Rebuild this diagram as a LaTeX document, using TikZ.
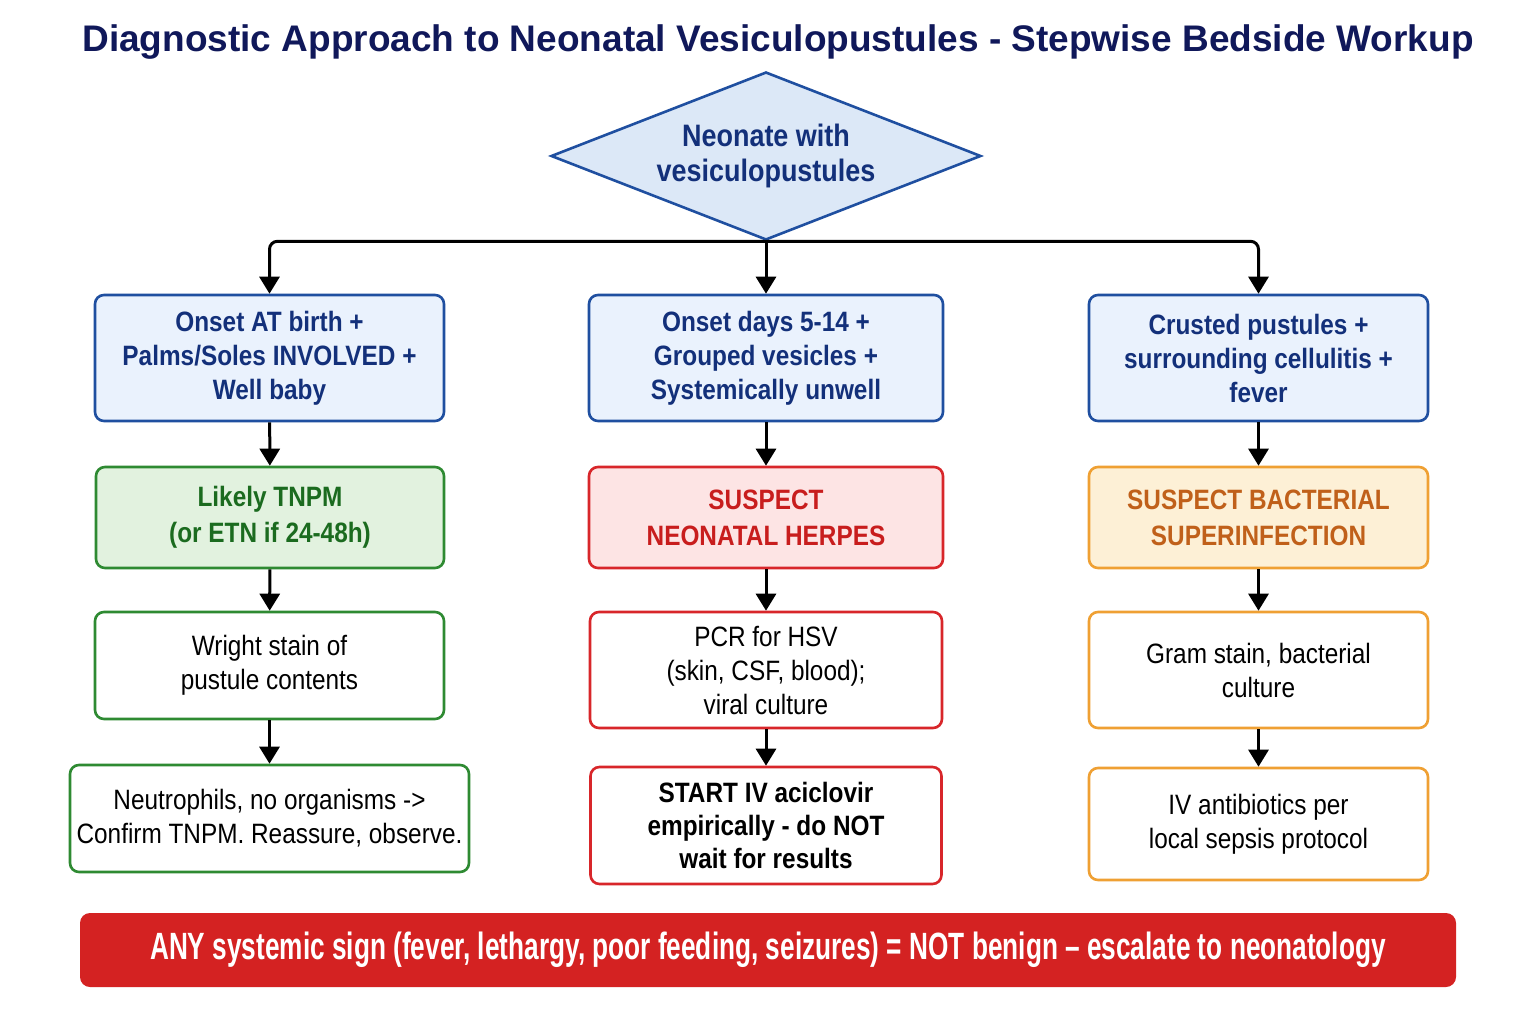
\documentclass[tikz,border=0pt]{standalone}
\usepackage{fontspec}
\setmainfont{Liberation Sans}
\newfontfamily\boxfont[FakeStretch=0.87]{Liberation Sans}
\newfontfamily\bannerfont[FakeStretch=0.69]{Liberation Sans}
\usetikzlibrary{shapes.geometric,arrows.meta}
\usepackage{xcolor}

\definecolor{titlenavy}{RGB}{16,24,90}
\definecolor{diafill}{RGB}{220,232,247}
\definecolor{bluedraw}{RGB}{31,79,160}
\definecolor{bluefill}{RGB}{234,242,253}
\definecolor{bluetext}{RGB}{19,48,122}
\definecolor{greendraw}{RGB}{46,138,50}
\definecolor{greenfill}{RGB}{226,242,223}
\definecolor{greentext}{RGB}{27,107,31}
\definecolor{reddraw}{RGB}{216,38,42}
\definecolor{redfill}{RGB}{253,228,228}
\definecolor{redtext}{RGB}{200,29,29}
\definecolor{orangedraw}{RGB}{239,160,51}
\definecolor{orangefill}{RGB}{253,240,214}
\definecolor{orangetext}{RGB}{192,96,26}
\definecolor{bannerred}{RGB}{212,34,34}

\begin{document}
\begin{tikzpicture}[x=1pt,y=-1pt, %pixel grid, y runs down
	stepbox/.style={draw, line width=2.6pt, rounded corners=9pt, fill=white, align=center, inner sep=0pt, text=black, font=\boxfont\fontsize{28}{34}\selectfont},
	bluebox/.style={stepbox, draw=bluedraw, fill=bluefill, text=bluetext, font=\boxfont\bfseries\fontsize{28}{34}\selectfont},
	tagbox/.style={stepbox, font=\boxfont\bfseries\fontsize{28}{36}\selectfont},
	arr/.style={-{Triangle[width=20pt,length=17pt]}, line width=3pt, black}]

\fill [white] (0,0) rectangle (1536,1024);
\useasboundingbox (0,0) rectangle (1536,1024);

	%title and start diamond
\node [anchor=base, text=titlenavy, font=\bfseries\fontsize{37}{40}\selectfont] (title) at (778,52) {Diagnostic Approach to Neonatal Vesiculopustules - Stepwise Bedside Workup};
\node [diamond, draw=bluedraw, fill=diafill, line width=2.6pt, aspect=2.56, minimum width=430, minimum height=168, inner sep=0pt, align=center, text=bluetext, font=\boxfont\bfseries\fontsize{31}{35}\selectfont] (start) at (766,156) {Neonate with\\vesiculopustules};

	%first row, presentation
\node [bluebox, minimum width=349, minimum height=126] (onsetA) at (269.5,358) {Onset AT birth +\\Palms/Soles INVOLVED +\\Well baby};
\node [bluebox, minimum width=354, minimum height=126] (onsetB) at (766,358) {Onset days 5-14 +\\Grouped vesicles +\\Systemically unwell};
\node [bluebox, minimum width=339, minimum height=126] (onsetC) at (1258.5,358) {Crusted pustules +\\surrounding cellulitis +\\fever};

	%second row, working diagnosis
\node [tagbox, draw=greendraw, fill=greenfill, text=greentext, minimum width=348, minimum height=101] (tnpm) at (270,517.5) {Likely TNPM\\(or ETN if 24-48h)};
\node [tagbox, draw=reddraw, fill=redfill, text=redtext, minimum width=354, minimum height=101] (herpes) at (766,517.5) {SUSPECT\\NEONATAL HERPES};
\node [tagbox, draw=orangedraw, fill=orangefill, text=orangetext, minimum width=339, minimum height=101] (bact) at (1258.5,517.5) {SUSPECT BACTERIAL\\SUPERINFECTION};

	%third row, tests
\node [stepbox, draw=greendraw, minimum width=349, minimum height=107] (wright) at (269.5,665.5) {Wright stain of\\pustule contents};
\node [stepbox, draw=reddraw, minimum width=352, minimum height=116] (pcr) at (766,670) {PCR for HSV\\(skin, CSF, blood);\\viral culture};
\node [stepbox, draw=orangedraw, minimum width=339, minimum height=116] (gram) at (1258.5,670) {Gram stain, bacterial\\culture};

	%fourth row, what to do
\node [stepbox, draw=greendraw, minimum width=399, minimum height=107] (confirm) at (269.5,818.5) {Neutrophils, no organisms ->\\Confirm TNPM. Reassure, observe.};
\node [stepbox, draw=reddraw, minimum width=351, minimum height=117, font=\boxfont\bfseries\fontsize{28}{33}\selectfont] (acicl) at (766,825.5) {START IV aciclovir\\empirically - do NOT\\wait for results};
\node [stepbox, draw=orangedraw, minimum width=339, minimum height=112] (antib) at (1258.5,824) {IV antibiotics per\\local sepsis protocol};

	%warning banner
\node [fill=bannerred, rounded corners=10pt, minimum width=1376, minimum height=74, inner sep=0pt, text=white, font=\bannerfont\bfseries\fontsize{38}{40}\selectfont] (warn) at (768,950) {ANY systemic sign (fever, lethargy, poor feeding, seizures) = NOT benign – escalate to neonatology};

	%connectors
\draw [arr, rounded corners=8pt] (start.south) -| (onsetA.north);
\draw [arr, rounded corners=8pt] (start.south) -| (onsetC.north);
\draw [arr] (start.south) -- (onsetB.north);
\draw [arr] (onsetA) -- (tnpm);
\draw [arr] (onsetB) -- (herpes);
\draw [arr] (onsetC) -- (bact);
\draw [arr] (tnpm) -- (wright);
\draw [arr] (herpes) -- (pcr);
\draw [arr] (bact) -- (gram);
\draw [arr] (wright) -- (confirm);
\draw [arr] (pcr) -- (acicl);
\draw [arr] (gram) -- (antib);

\end{tikzpicture}
\end{document}
